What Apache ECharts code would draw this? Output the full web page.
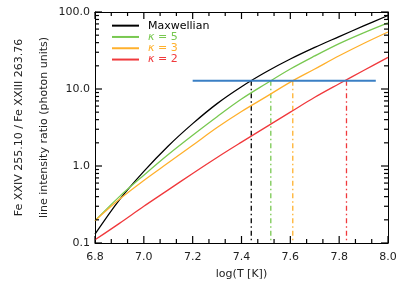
<!DOCTYPE html>
<html>
<head>
<meta charset="utf-8">
<script src="https://cdn.jsdelivr.net/npm/echarts@6/dist/echarts.min.js"></script>
<style>html,body{margin:0;padding:0;background:#fff}#c{width:399px;height:286px}</style>
</head>
<body>
<div id="c"></div>
<script>
const logT = [6.8, 6.9, 7.0, 7.1, 7.2, 7.3, 7.4, 7.5, 7.6, 7.7, 7.8, 7.9, 8.0];
const maxwellian = [0.13, 0.363, 0.85, 1.82, 3.55, 6.46, 10.7, 16.6, 24.5, 34.7, 47.9, 66, 90];
const kappa5 = [0.195, 0.40, 0.76, 1.41, 2.51, 4.37, 7.4, 11.7, 18.2, 26.9, 38.9, 53.7, 72.4];
const kappa3 = [0.195, 0.37, 0.65, 1.10, 1.86, 3.16, 5.1, 7.9, 12.3, 18.2, 27, 39, 55];
const kappa2 = [0.11, 0.18, 0.30, 0.49, 0.80, 1.29, 2.04, 3.2, 5.0, 7.8, 11.7, 17.4, 25.7];
const observedRatio = 12.8;
const observedRange = [7.2, 7.95];
const crossingT = [7.44, 7.52, 7.61, 7.83];
const seriesNames = ['Maxwellian', 'κ = 5', 'κ = 3', 'κ = 2'];
const seriesColors = ['#000000', '#78c850', '#ffb02c', '#f0393c'];
const yTicks = [0.1, 1, 10, 100];
const xTicks = [6.8, 7.0, 7.2, 7.4, 7.6, 7.8, 8.0];
const xMinorPerMajor = 3;
const yMinorMultipliers = [2, 3, 4, 5, 6, 7, 8, 9];

const xMin = xTicks[0], xMax = xTicks[xTicks.length - 1];
const yMin = yTicks[0], yMax = yTicks[yTicks.length - 1];

const curves = [maxwellian, kappa5, kappa3, kappa2];
const series = [];
curves.forEach((vals, i) => {
  series.push({
    name: seriesNames[i], type: 'line', smooth: 0.35, symbol: 'none',
    data: logT.map((t, j) => [t, vals[j]]),
    lineStyle: { color: seriesColors[i], width: 1.3 },
    itemStyle: { color: seriesColors[i] }, z: 3
  });
});
series.push({
  type: 'line', symbol: 'none', silent: true,
  data: observedRange.map(t => [t, observedRatio]),
  lineStyle: { color: '#3a7fc4', width: 2 }, z: 4
});
crossingT.forEach((t, i) => {
  series.push({
    type: 'line', symbol: 'none', silent: true,
    data: [[t, observedRatio], [t, yMin]],
    lineStyle: { color: seriesColors[i], width: 1.3, type: [5, 3, 1.5, 3] }, z: 2
  });
});

// tick marks (inward, on all four sides) drawn through the axis scales
const MAJ = 7, MIN = 4;
const tickData = [];
for (let i = 0; i < xTicks.length; i++) {
  tickData.push([xTicks[i], yMin, 0, MAJ], [xTicks[i], yMax, 0, -MAJ]);
  if (i < xTicks.length - 1) {
    for (let k = 1; k < xMinorPerMajor; k++) {
      const v = xTicks[i] + (xTicks[i + 1] - xTicks[i]) * k / xMinorPerMajor;
      tickData.push([v, yMin, 0, MIN], [v, yMax, 0, -MIN]);
    }
  }
}
for (let i = 0; i < yTicks.length; i++) {
  tickData.push([xMin, yTicks[i], 1, MAJ], [xMax, yTicks[i], 1, -MAJ]);
  if (i < yTicks.length - 1) {
    yMinorMultipliers.forEach(m => {
      tickData.push([xMin, yTicks[i] * m, 1, MIN], [xMax, yTicks[i] * m, 1, -MIN]);
    });
  }
}
series.push({
  type: 'custom', silent: true, clip: false, z: 5,
  dimensions: ['x', 'y', 'kind', 'len'],
  encode: { x: 0, y: 1 },
  data: tickData,
  renderItem: (params, api) => {
    const p = api.coord([api.value(0), api.value(1)]);
    const d = api.value(3);
    const vertical = api.value(2) === 0;
    return {
      type: 'line',
      shape: vertical ? { x1: p[0], y1: p[1], x2: p[0], y2: p[1] - d }
                      : { x1: p[0], y1: p[1], x2: p[0] + d, y2: p[1] },
      style: { stroke: '#000', lineWidth: 1.2, fill: null }
    };
  }
});

const font = 'DejaVu Sans, sans-serif';
const axisLine = { show: true, lineStyle: { color: '#000', width: 1 } };
const chart = echarts.init(document.getElementById('c'), null, { renderer: 'canvas' });
chart.setOption({
  animation: false,
  grid: { left: 95, right: 11, top: 12, bottom: 43, outerBoundsMode: 'none', containLabel: false },
  legend: {
    orient: 'vertical', left: 112, top: 20, padding: 0, itemWidth: 27, itemHeight: 2, itemGap: 0,
    icon: 'rect',
    data: seriesNames.map((n, i) => ({ name: n, textStyle: { color: seriesColors[i] } })),
    formatter: n => n.replace('κ', '{k|κ}'),
    textStyle: { fontSize: 11, fontFamily: font, lineHeight: 11.3, padding: [0, 0, 0, 4],
      rich: { k: { fontStyle: 'italic', fontSize: 11, fontFamily: font } } }
  },
  xAxis: [{
    type: 'value', min: xMin, max: xMax, interval: 0.2,
    name: 'log(T [K])', nameLocation: 'middle', nameGap: 26, nameMoveOverlap: false,
    nameTextStyle: { fontSize: 11, color: '#222', fontFamily: font },
    axisLine: axisLine, axisTick: { show: false },
    axisLabel: { fontSize: 11, color: '#222', fontFamily: font, margin: 9, formatter: v => v.toFixed(1) },
    splitLine: { show: false }
  }, {
    type: 'value', position: 'top', min: xMin, max: xMax, interval: 0.2,
    axisLine: axisLine, axisTick: { show: false },
    axisLabel: { show: false }, splitLine: { show: false }
  }],
  yAxis: [{
    type: 'log', logBase: 10, min: yMin, max: yMax,
    name: 'Fe XXIV 255.10 / Fe XXIII 263.76\nline intensity ratio (photon units)',
    nameLocation: 'middle', nameRotate: 90, nameGap: 38, nameMoveOverlap: false,
    nameTextStyle: { fontSize: 11, color: '#222', fontFamily: font, lineHeight: 25 },
    axisLine: axisLine, axisTick: { show: false },
    axisLabel: { fontSize: 11, color: '#222', fontFamily: font, margin: 5, formatter: v => v.toFixed(1) },
    splitLine: { show: false }
  }, {
    type: 'log', logBase: 10, position: 'right', min: yMin, max: yMax,
    axisLine: axisLine, axisTick: { show: false },
    axisLabel: { show: false }, splitLine: { show: false }
  }],
  series: series
});
</script>
</body>
</html>
